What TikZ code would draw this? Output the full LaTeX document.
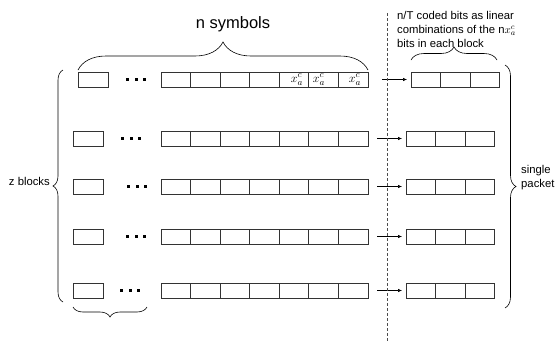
\documentclass[tikz,border=0pt]{standalone}
\usepackage{fontspec}
\setmainfont{Liberation Sans}
\usetikzlibrary{arrows.meta,decorations.pathreplacing}
\tikzset{
	boxline/.style={line width=0.8pt, color=black!80},
	flow/.style={line width=0.6pt, -{Latex[length=4pt,width=3.5pt]}, shorten >=4pt},
	brc/.style={decorate, line width=0.6pt, decoration={brace, amplitude=#1}},
	lbl/.style={font=\fontsize{11.3}{14}\selectfont, inner sep=0pt},
	sym/.style={font=\fontsize{12.5}{14}\selectfont, inner sep=0pt}
}
\def\cellrow(#1,#2)(#3){\foreach \k in {1,...,#3} \draw[boxline] ({#1+(\k-1)*29.57},#2) rectangle ++(29.57,15);}
\def\dotsrow(#1,#2){\foreach \k in {0,1,2} \fill ({#1+\k*8.5},{#2+6}) rectangle ++(3.2,3.2);}

\begin{document}
\begin{tikzpicture}[x=1pt, y=-1pt]
			%%%%% START %%%%%
			\useasboundingbox (0,0) rectangle (557,341);
			
			% rows of z blocks
			\draw[boxline] (78,72) rectangle ++(30,15);   \dotsrow(126,72)  \cellrow(161,72)(7)
			\draw[boxline] (73,131) rectangle ++(30,15);  \dotsrow(121,131) \cellrow(161,131)(7)
			\draw[boxline] (73,179) rectangle ++(30,15);  \dotsrow(127,179) \cellrow(161,179)(7)
			\draw[boxline] (73,229) rectangle ++(30,15);  \dotsrow(126,229) \cellrow(161,229)(7)
			\draw[boxline] (73,283) rectangle ++(30,15);  \dotsrow(120,283) \cellrow(161,283)(7)
			
			\node[sym] (xa1) at (297,79.5) {$x_a^c$};
			\node[sym] (xa2) at (319,79.5) {$x_a^c$};
			\node[sym] (xa3) at (355,79.5) {$x_a^c$};
			
			% single packet
			\cellrow(411,72)(3)
			\cellrow(406,131)(3)
			\cellrow(406,179)(3)
			\cellrow(406,229)(3)
			\cellrow(406,283)(3)
			
			\coordinate (a1) at (382,79.5);  \coordinate (p1) at (411,79.5);
			\coordinate (a2) at (377,138.5); \coordinate (p2) at (406,138.5);
			\coordinate (a3) at (377,186.5); \coordinate (p3) at (406,186.5);
			\coordinate (a4) at (377,236.5); \coordinate (p4) at (406,236.5);
			\coordinate (a5) at (377,290.5); \coordinate (p5) at (406,290.5);
			\draw[flow] (a1) -- (p1);
			\draw[flow] (a2) -- (p2);
			\draw[flow] (a3) -- (p3);
			\draw[flow] (a4) -- (p4);
			\draw[flow] (a5) -- (p5);
			
			\coordinate (cuttop) at (387,13);
			\coordinate (cutbot) at (387,341);
			\draw[line width=0.6pt, color=black!70, dash pattern=on 3pt off 2pt] (cuttop) -- (cutbot);
			
			% braces
			\draw[brc=28] (78,70) -- (368,70);
			\draw[brc=13] (411,60) -- (497,60);
			\draw[brc=10] (147,307) -- (73,307);
			\draw[brc=10] (63,302) -- (63,70);
			\draw[brc=11] (505,65) -- (505,308);
			
			\node[font=\fontsize{16.5}{20}\selectfont, inner sep=0pt] (nsym) at (233,24) {n symbols};
			\node[lbl, anchor=east] (zblk) at (50,181) {z blocks};
			\node[lbl, anchor=west, align=left] (pkt) at (521,178) {single\\packet};
			\node[lbl, anchor=base west] (cb1) at (397,19) {n/T coded bits as linear};
			\node[lbl, anchor=base west] (cb2) at (397,33) {combinations of the n\smash{$x_a^c$}};
			\node[lbl, anchor=base west] (cb3) at (397,47) {bits in each block};
			%%%%% END %%%%%
\end{tikzpicture}
\end{document}
